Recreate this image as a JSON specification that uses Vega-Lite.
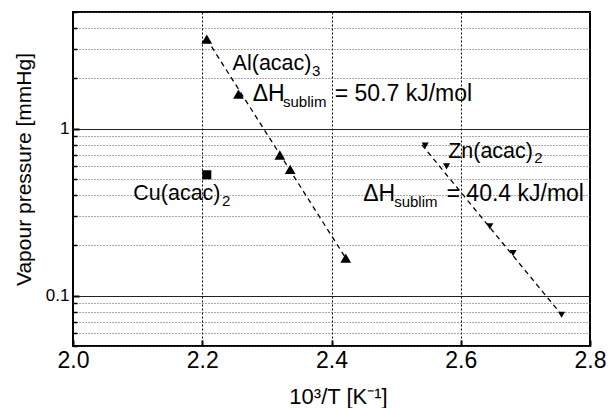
{
  "$schema": "https://vega.github.io/schema/vega-lite/v6.json",
  "width": 517,
  "height": 334,
  "autosize": {"type": "none"},
  "padding": {"left": 73, "top": 12, "right": 18, "bottom": 62},
  "background": "white",
  "config": {
    "view": {"stroke": "black", "strokeWidth": 2},
    "font": "Liberation Sans",
    "text": {"font": "Liberation Sans"}
  },
  "datasets": {
    "points": [
      {"compound": "Al(acac)3", "x": 2.207, "p": 3.44},
      {"compound": "Al(acac)3", "x": 2.256, "p": 1.61},
      {"compound": "Al(acac)3", "x": 2.320, "p": 0.696},
      {"compound": "Al(acac)3", "x": 2.336, "p": 0.571},
      {"compound": "Al(acac)3", "x": 2.422, "p": 0.168},
      {"compound": "Cu(acac)2", "x": 2.207, "p": 0.530},
      {"compound": "Zn(acac)2", "x": 2.545, "p": 0.794},
      {"compound": "Zn(acac)2", "x": 2.578, "p": 0.595},
      {"compound": "Zn(acac)2", "x": 2.645, "p": 0.260},
      {"compound": "Zn(acac)2", "x": 2.681, "p": 0.180},
      {"compound": "Zn(acac)2", "x": 2.756, "p": 0.0769}
    ],
    "fits": [
      {"compound": "Al(acac)3", "x": 2.207, "p": 3.44},
      {"compound": "Al(acac)3", "x": 2.422, "p": 0.168},
      {"compound": "Zn(acac)2", "x": 2.540, "p": 0.80},
      {"compound": "Zn(acac)2", "x": 2.756, "p": 0.0769}
    ],
    "nameLabels": [
      {"text": "Al(acac)", "x": 2.247, "p": 2.256},
      {"text": "Cu(acac)", "x": 2.0933, "p": 0.373},
      {"text": "Zn(acac)", "x": 2.5805, "p": 0.668}
    ],
    "enthalpyLabels": [
      {"text": "ΔH", "x": 2.278, "p": 1.457},
      {"text": "= 50.7 kJ/mol", "x": 2.405, "p": 1.457},
      {"text": "ΔH", "x": 2.449, "p": 0.367},
      {"text": "= 40.4 kJ/mol", "x": 2.578, "p": 0.367}
    ],
    "subLabels": [
      {"text": "3", "x": 2.370, "p": 2.077},
      {"text": "sublim", "x": 2.325, "p": 1.354},
      {"text": "2", "x": 2.2305, "p": 0.343},
      {"text": "2", "x": 2.7137, "p": 0.623},
      {"text": "sublim", "x": 2.497, "p": 0.340}
    ]
  },
  "encoding": {
    "x": {
      "field": "x", "type": "quantitative",
      "scale": {"domain": [2.0, 2.8], "nice": false, "zero": false},
      "axis": {
        "values": [2.0, 2.2, 2.4, 2.6, 2.8],
        "format": ".1f",
        "title": "10³/T [K⁻¹]",
        "titleFont": "Liberation Sans",
        "titleFontSize": 22,
        "titleFontWeight": "normal",
        "titleColor": "black",
        "titleBaseline": "alphabetic",
        "titleX": 265,
        "titleY": 57,
        "labelFont": "Liberation Sans",
        "labelFontSize": 23,
        "labelColor": "black",
        "labelPadding": 9,
        "labelFlush": false,
        "domain": false,
        "tickSize": -6,
        "tickWidth": 2,
        "tickColor": "black",
        "grid": true,
        "gridColor": "black",
        "gridDash": [2, 2],
        "gridWidth": 1
      }
    },
    "y": {
      "field": "p", "type": "quantitative",
      "scale": {"type": "log", "domain": [0.05, 5], "nice": false},
      "axis": {
        "values": [0.05, 0.06, 0.07, 0.08, 0.09, 0.1, 0.2, 0.3, 0.4, 0.5, 0.6, 0.7, 0.8, 0.9, 1, 2, 3, 4, 5],
        "labelExpr": "datum.value == 1 ? '1' : (datum.value == 0.1 ? '0.1' : '')",
        "title": "Vapour pressure [mmHg]",
        "titleFont": "Liberation Sans",
        "titleFontSize": 21,
        "titleFontWeight": "normal",
        "titleColor": "black",
        "titleBaseline": "alphabetic",
        "titleX": -43,
        "titleY": 157,
        "labelFont": "Liberation Sans",
        "labelFontSize": 17,
        "labelColor": "black",
        "labelPadding": 10,
        "labelFlush": false,
        "domain": false,
        "tickSize": {"condition": {"test": "datum.value == 1 || datum.value == 0.1", "value": -6}, "value": -4},
        "tickWidth": {"condition": {"test": "datum.value == 1 || datum.value == 0.1", "value": 2}, "value": 1.5},
        "tickColor": "black",
        "grid": true,
        "gridColor": {"condition": {"test": "datum.value == 1 || datum.value == 0.1", "value": "#222222"}, "value": "#555555"},
        "gridDash": {"condition": {"test": "datum.value == 1 || datum.value == 0.1", "value": []}, "value": [1, 2]},
        "gridWidth": 1
      }
    }
  },
  "layer": [
    {
      "data": {"name": "fits"},
      "mark": {"type": "line", "color": "black", "strokeWidth": 1.3, "strokeDash": [5, 4]},
      "encoding": {"detail": {"field": "compound"}}
    },
    {
      "data": {"name": "points"},
      "mark": {"type": "point", "filled": true, "color": "black", "opacity": 1},
      "encoding": {
        "shape": {
          "field": "compound", "type": "nominal",
          "scale": {"domain": ["Al(acac)3", "Cu(acac)2", "Zn(acac)2"], "range": ["triangle-up", "square", "triangle-down"]},
          "legend": null
        },
        "size": {
          "field": "compound", "type": "nominal",
          "scale": {"domain": ["Al(acac)3", "Cu(acac)2", "Zn(acac)2"], "range": [115, 50, 180]},
          "legend": null
        }
      }
    },
    {
      "data": {"name": "nameLabels"},
      "mark": {"type": "text", "align": "left", "baseline": "alphabetic", "fontSize": 21.5, "font": "Liberation Sans", "color": "black"},
      "encoding": {"text": {"field": "text"}}
    },
    {
      "data": {"name": "enthalpyLabels"},
      "mark": {"type": "text", "align": "left", "baseline": "alphabetic", "fontSize": 23, "font": "Liberation Sans", "color": "black"},
      "encoding": {"text": {"field": "text"}}
    },
    {
      "data": {"name": "subLabels"},
      "mark": {"type": "text", "align": "left", "baseline": "alphabetic", "fontSize": 15, "font": "Liberation Sans", "color": "black"},
      "encoding": {"text": {"field": "text"}}
    }
  ]
}
